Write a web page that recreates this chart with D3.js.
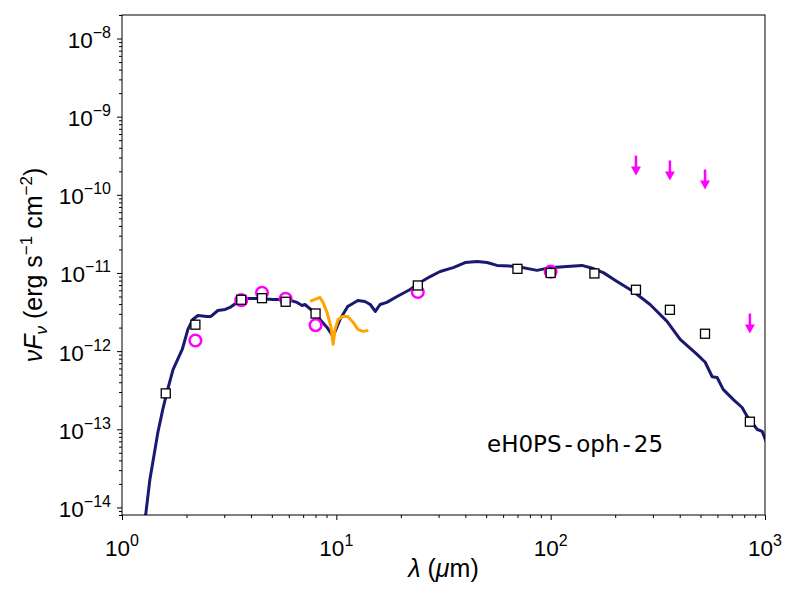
<!DOCTYPE html>
<html>
    <head>
        <title>SED eH0PS-oph-25</title>
        <script src="https://d3js.org/d3.v7.min.js"></script>
        <style>
            body { margin:0; background:white; }
            svg { width:800px; height:600px; display:block; }
            .tick-label { font-family:"Liberation Sans", Arial, sans-serif; font-size:22.5px; fill:black; }
            .axis-label { font-family:"Liberation Sans", Arial, sans-serif; font-size:25px; fill:black; }
            .name-label { font-family:"DejaVu Sans", sans-serif; font-size:23px; fill:black; }
        </style>
    </head>
    <body>
        <svg id="sedSvg" width="800" height="600"></svg>
    </body>
    <script>
        // model SED (um, erg s^-1 cm^-2)
        const modelWave = [1.24, 1.29, 1.35, 1.47, 1.55, 1.62, 1.73, 1.91, 2.03, 2.14, 2.26,
            2.49, 2.60, 2.80, 3.03, 3.19, 3.44, 3.67, 4.27, 5.07, 5.89,
            6.56, 6.92, 7.14, 7.79, 8.39, 9.05, 9.66, 10.4, 11.3, 12.6,
            13.6, 14.4, 15.2, 16.0, 17.2, 19.2, 22.1, 24.6, 27.4, 30.5,
            35.1, 39.9, 45.4, 50.5, 56.2, 69.7, 86.4, 99.3, 119, 140,
            158, 176, 204, 243, 291, 349, 402, 482, 526, 567,
            598, 638, 710, 782, 826, 919, 970, 1012];
        const modelFlux = [4e-15, 8.1e-15, 2.3e-14, 9.1e-14, 1.8e-13, 2.96e-13, 5.8e-13, 1.05e-12, 1.9e-12, 2.54e-12, 2.86e-12,
            2.78e-12, 2.78e-12, 3.31e-12, 3.41e-12, 3.62e-12, 4.2e-12, 4.72e-12, 4.72e-12, 4.58e-12, 4.58e-12,
            4.2e-12, 3.84e-12, 3.95e-12, 3.22e-12, 2.54e-12, 2.01e-12, 1.54e-12, 2.54e-12, 3.73e-12, 4.45e-12,
            4.32e-12, 3.95e-12, 3.22e-12, 3.95e-12, 4.2e-12, 5.0e-12, 6.15e-12, 7.56e-12, 9.0e-12, 1.045e-11,
            1.17e-11, 1.36e-11, 1.40e-11, 1.36e-11, 1.25e-11, 1.21e-11, 1.08e-11, 1.17e-11, 1.21e-11, 1.25e-11,
            1.14e-11, 1.01e-11, 7.8e-12, 5.8e-12, 3.95e-12, 2.4e-12, 1.41e-12, 9.1e-13, 7.2e-13, 4.7e-13,
            4.6e-13, 3.24e-13, 2.41e-13, 1.9e-13, 1.46e-13, 1.0e-13, 9.4e-14, 7.0e-14];

        // IRS spectrum
        const irsWave = [7.54, 7.96, 8.39, 8.67, 9.05, 9.45, 9.66, 9.86, 10.2, 10.7, 11.3, 12.0, 12.6, 13.3, 14.1];
        const irsFlux = [4.32e-12, 4.58e-12, 4.86e-12, 4.2e-12, 3.13e-12, 2.01e-12, 1.22e-12, 1.9e-12,
            2.54e-12, 2.78e-12, 2.78e-12, 2.33e-12, 1.9e-12, 1.79e-12, 1.84e-12];

        // photometry (squares)
        const photWave = [1.6, 2.2, 3.6, 4.5, 5.8, 8.0, 24, 70, 100, 160, 250, 360, 525, 850];
        const photFlux = [2.88e-13, 2.18e-12, 4.54e-12, 4.76e-12, 4.28e-12, 3.03e-12, 6.92e-12,
            1.13e-11, 1.0e-11, 9.86e-12, 6.1e-12, 3.38e-12, 1.67e-12, 1.25e-13];

        // second photometry set (circles)
        const circWave = [2.2, 3.6, 4.5, 5.8, 8.0, 24, 100];
        const circFlux = [1.37e-12, 4.49e-12, 5.58e-12, 4.67e-12, 2.15e-12, 5.71e-12, 1.04e-11];

        // upper limits (arrows)
        const limWave = [250, 360, 525, 850];
        const limFlux = [3.18e-10, 2.75e-10, 2.11e-10, 3.03e-12];

        // tick labels (powers of ten)
        const xTickExp = [0, 1, 2, 3];
        const yTickExp = [-14, -13, -12, -11, -10, -9, -8];

        const svg = d3.select('#sedSvg');
        const width = 800, height = 600;
        const margin = { top:15, bottom:85, right:35, left:122 };
        const innerWidth = width - margin.left - margin.right;
        const innerHeight = height - margin.top - margin.bottom;

        const xScale = d3.scaleLog().domain([1, 1000]).range([0, innerWidth]);
        const yScale = d3.scaleLog().domain([8e-15, 2e-8]).range([innerHeight, 0]);

        const g = svg.append('g')
            .attr('transform', 'translate('+margin.left+', '+margin.top+')');

        svg.append('defs').append('clipPath').attr('id', 'clip')
            .append('rect').attr('width', innerWidth).attr('height', innerHeight);

        // minor + major ticks
        const minorX = [];
        xTickExp.slice(0, -1).forEach(e => { for (let k = 2; k < 10; k++) minorX.push(k * Math.pow(10, e)); });
        const minorY = [];
        for (let e = -15; e <= -8; e++) {
            for (let k = 2; k < 10; k++) {
                const v = k * Math.pow(10, e);
                if (v >= 8e-15 && v <= 2e-8) minorY.push(v);
            }
        }

        const stripAxis = a => { a.select('.domain').remove(); a.selectAll('text').remove(); };
        g.append('g').attr('transform', `translate(0,${innerHeight})`)
            .call(d3.axisBottom(xScale).tickValues(minorX).tickSize(3))
            .call(stripAxis);
        g.append('g').attr('transform', `translate(0,${innerHeight})`)
            .call(d3.axisBottom(xScale).tickValues(xTickExp.map(e => Math.pow(10, e))).tickSize(5))
            .call(stripAxis);
        g.append('g')
            .call(d3.axisLeft(yScale).tickValues(minorY).tickSize(3))
            .call(stripAxis);
        g.append('g')
            .call(d3.axisLeft(yScale).tickValues(yTickExp.map(e => Math.pow(10, e))).tickSize(5))
            .call(stripAxis);
        g.selectAll('.tick line').attr('stroke', 'black').attr('stroke-width', 1);

        // tick labels with superscripts
        xTickExp.forEach(e => {
            const t = g.append('text').attr('class', 'tick-label')
                .attr('x', xScale(Math.pow(10, e))).attr('y', innerHeight + 41)
                .attr('text-anchor', 'middle');
            t.append('tspan').text('10');
            t.append('tspan').attr('dy', -10).attr('font-size', '16px').text(String(e).replace('-', '\u2212'));
        });
        yTickExp.forEach(e => {
            const t = g.append('text').attr('class', 'tick-label')
                .attr('x', -11).attr('y', yScale(Math.pow(10, e)) + 9.5)
                .attr('text-anchor', 'end');
            t.append('tspan').text('10');
            t.append('tspan').attr('dy', -10).attr('font-size', '16px').text(String(e).replace('-', '\u2212'));
        });

        const plot = g.append('g').attr('clip-path', 'url(#clip)');

        const line = d3.line().x(d => xScale(d[0])).y(d => yScale(d[1]));

        plot.append('path')
            .datum(d3.zip(modelWave, modelFlux))
            .attr('d', line)
            .attr('fill', 'none').attr('stroke', '#191970').attr('stroke-width', 3)
            .attr('stroke-linejoin', 'round');

        plot.append('path')
            .datum(d3.zip(irsWave, irsFlux))
            .attr('d', line)
            .attr('fill', 'none').attr('stroke', 'orange').attr('stroke-width', 3)
            .attr('stroke-linejoin', 'round');

        plot.selectAll('circle.phot2')
            .data(d3.zip(circWave, circFlux))
            .enter().append('circle')
            .attr('class', 'phot2')
            .attr('cx', d => xScale(d[0])).attr('cy', d => yScale(d[1]))
            .attr('r', 5.8)
            .attr('fill', 'none').attr('stroke', 'magenta').attr('stroke-width', 2.5);

        plot.selectAll('rect.phot')
            .data(d3.zip(photWave, photFlux))
            .enter().append('rect')
            .attr('class', 'phot')
            .attr('x', d => xScale(d[0]) - 4.5).attr('y', d => yScale(d[1]) - 4.5)
            .attr('width', 9).attr('height', 9)
            .attr('fill', 'white').attr('stroke', 'black').attr('stroke-width', 1.3);

        // upper limits: shaft + head pointing down from the value
        const lims = d3.zip(limWave, limFlux);
        plot.selectAll('line.lim')
            .data(lims).enter().append('line')
            .attr('class', 'lim')
            .attr('x1', d => xScale(d[0])).attr('x2', d => xScale(d[0]))
            .attr('y1', d => yScale(d[1])).attr('y2', d => yScale(d[1]) + 13)
            .attr('stroke', 'magenta').attr('stroke-width', 2.5);
        plot.selectAll('path.lim')
            .data(lims).enter().append('path')
            .attr('class', 'lim')
            .attr('d', d => {
                const x = xScale(d[0]), y = yScale(d[1]);
                return `M${x-5},${y+11}L${x+5},${y+11}L${x},${y+20}Z`;
            })
            .attr('fill', 'magenta');

        // frame
        g.append('rect').attr('width', innerWidth).attr('height', innerHeight)
            .attr('fill', 'none').attr('stroke', 'black').attr('stroke-width', 1);

        // source name (hyphens set with a little space, as in the original)
        const nm = g.append('text').attr('class', 'name-label')
            .attr('x', 487 - margin.left).attr('y', 452 - margin.top);
        nm.append('tspan').text('eH0PS');
        nm.append('tspan').attr('dx', 3).text('-');
        nm.append('tspan').attr('dx', 3).text('oph');
        nm.append('tspan').attr('dx', 3).text('-');
        nm.append('tspan').attr('dx', 3).text('25');

        // axis labels
        const xl = g.append('text').attr('class', 'axis-label')
            .attr('x', innerWidth / 2).attr('y', innerHeight + 62)
            .attr('text-anchor', 'middle');
        xl.append('tspan').attr('font-style', 'italic').text('\u03bb');
        xl.append('tspan').text(' (');
        xl.append('tspan').attr('font-style', 'italic').text('\u03bc');
        xl.append('tspan').text('m)');

        const yl = g.append('text').attr('class', 'axis-label')
            .attr('transform', 'rotate(-90)')
            .attr('x', -innerHeight / 2).attr('y', -80)
            .attr('text-anchor', 'middle');
        yl.append('tspan').attr('font-style', 'italic').text('\u03bdF');
        yl.append('tspan').attr('font-style', 'italic').attr('font-size', '17px').attr('dy', 5).text('\u03bd');
        yl.append('tspan').attr('dy', -5).text(' (erg s');
        yl.append('tspan').attr('font-size', '17px').attr('dy', -10).text('\u22121');
        yl.append('tspan').attr('dy', 10).text(' cm');
        yl.append('tspan').attr('font-size', '17px').attr('dy', -10).text('\u22122');
        yl.append('tspan').attr('dy', 10).text(')');
    </script>
</html>
